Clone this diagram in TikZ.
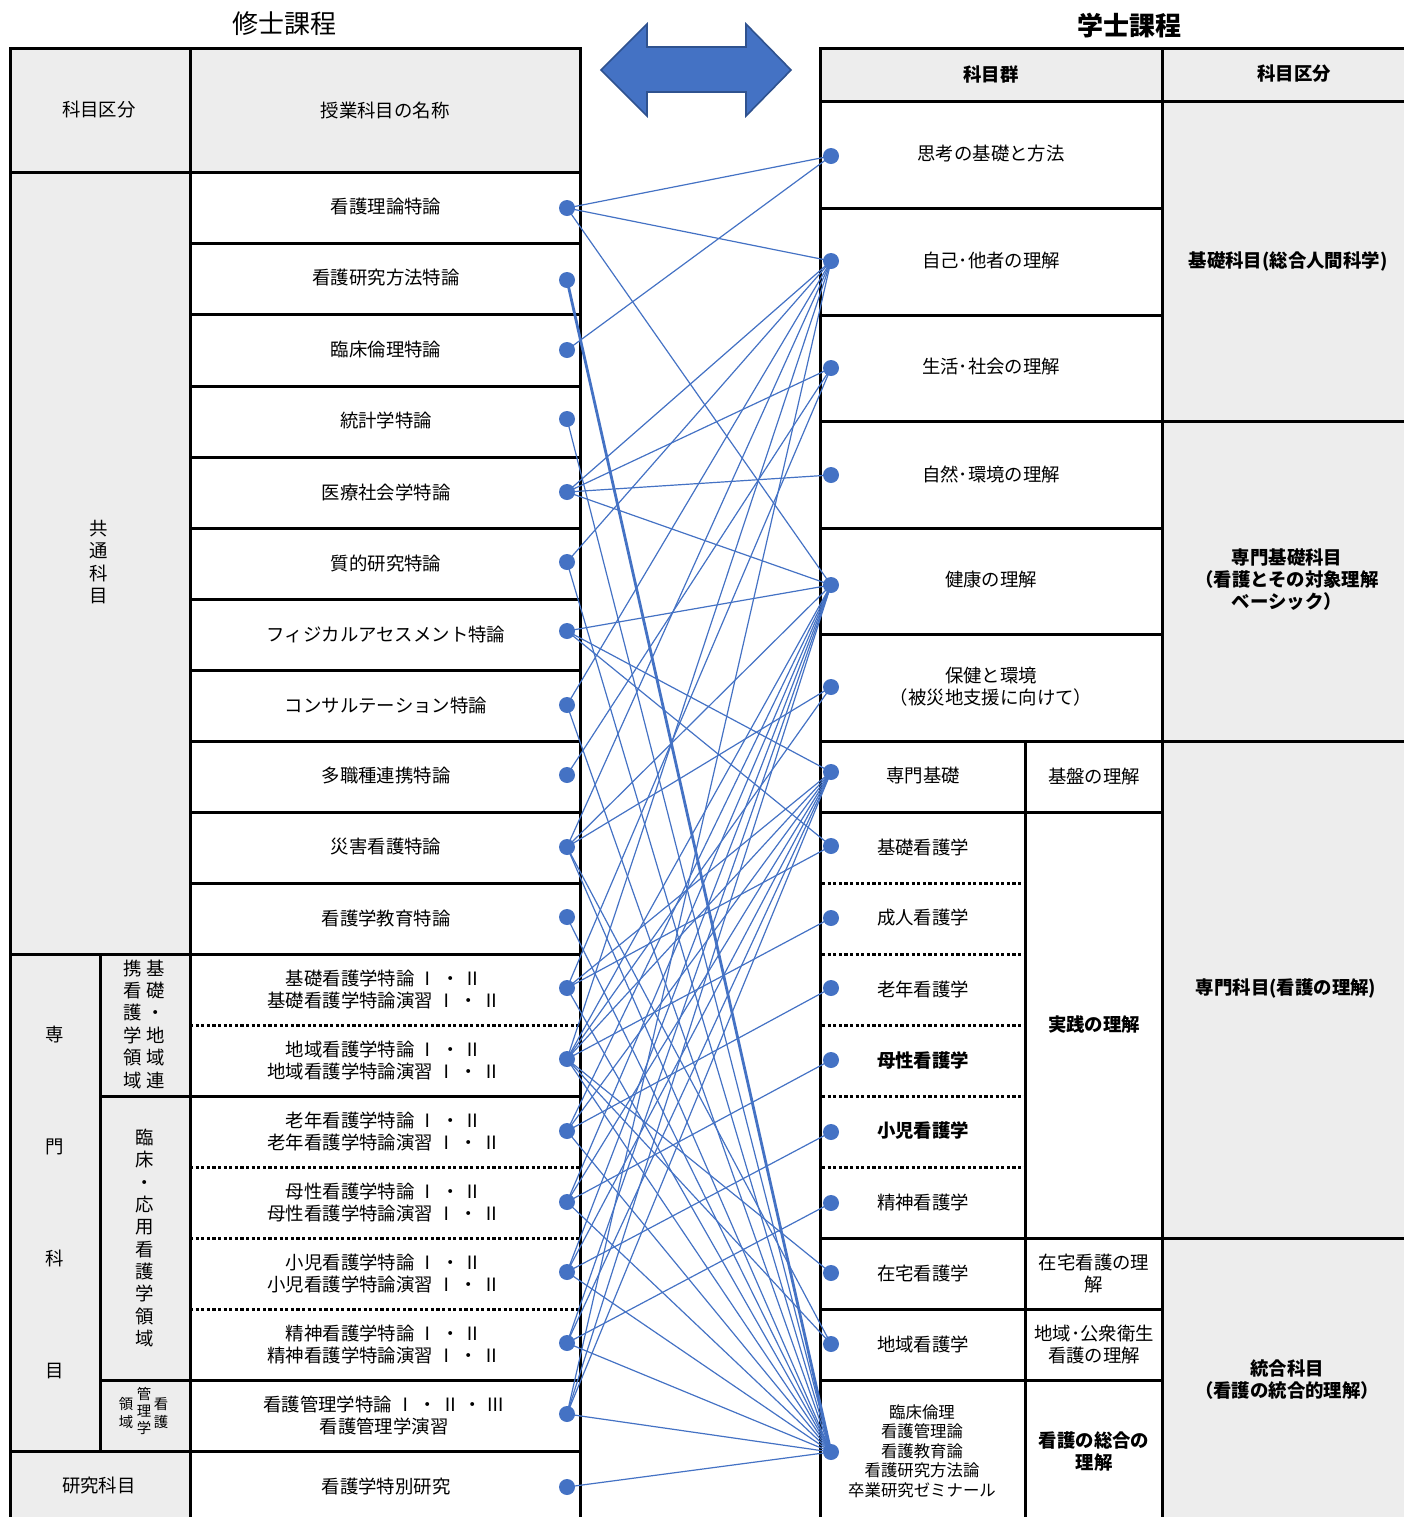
\documentclass[tikz,border=0pt]{standalone}
\usepackage{fontspec}
\setmainfont{Noto Sans CJK JP}
\newfontfamily\jp{Noto Sans CJK JP}
\definecolor{dotblue}{HTML}{4472C4}
\definecolor{arrline}{HTML}{2F528F}
\definecolor{cellgrey}{HTML}{EDEDED}
\tikzset{
  grid/.style={line width=1.5pt, line cap=rect},
  dotline/.style={line width=1.5pt, dash pattern=on 1.6pt off 1.2pt},
  lbl/.style={font=\jp\fontsize{9.2}{11}\selectfont, align=center, inner sep=0pt},
  blbl/.style={font=\jp\bfseries\fontsize{9.2}{11}\selectfont, align=center, inner sep=0pt},
  dot/.style={circle, fill=dotblue, inner sep=0pt, minimum size=8pt},
  conn/.style={draw=dotblue, line width=0.6pt},
}
\begin{document}
\begin{tikzpicture}[x=0.5pt,y=-0.5pt]
\useasboundingbox (0,0) rectangle (1404,1517);
% ---------- fills
\fill[cellgrey] (10,48) rectangle (580,172);
\fill[cellgrey] (10,172) rectangle (190,1517);
\fill[cellgrey] (820,48) rectangle (1404,101);
\fill[cellgrey] (1162,101) rectangle (1404,1517);
% ---------- titles
\node[lbl, font=\jp\fontsize{13}{15}\selectfont] (ttlM) at (284,24) {修士課程};
\node[lbl, font=\jp\bfseries\fontsize{13}{15}\selectfont] (ttlB) at (1129,26) {学士課程};
% ---------- double arrow
\draw[fill=dotblue, draw=arrline, line width=0.8pt] (601,70) -- (647,24) -- (647,47) -- (746,47) -- (746,24) -- (791,70) -- (746,116) -- (746,92) -- (647,92) -- (647,116) -- cycle;
% ---------- left table grid
\draw[grid] (10,48) -- (580,48);
\draw[grid] (10,48) -- (10,1517);
\draw[grid] (190,48) -- (190,1517);
\draw[grid] (580,48) -- (580,1517);
\draw[grid] (10,172) -- (580,172);
\foreach \y in {243,314,386,457,528,599,670,741,812,883}{\draw[grid] (190,\y) -- (580,\y);}
\draw[grid] (10,954) -- (580,954);
\draw[grid] (100,1096) -- (580,1096);
\draw[grid] (100,1380) -- (580,1380);
\draw[grid] (10,1451) -- (580,1451);
\draw[grid] (100,954) -- (100,1451);
\foreach \y in {1025,1167,1238,1309}{\draw[dotline] (190,\y) -- (580,\y);}
% ---------- right table grid
\draw[grid] (820,48) -- (1404,48);
\draw[grid] (820,48) -- (820,1517);
\draw[grid] (1162,48) -- (1162,1517);
\draw[grid] (820,101) -- (1404,101);
\foreach \y in {208,315,528,634,812,1309,1380}{\draw[grid] (820,\y) -- (1162,\y);}
\foreach \y in {421,741,1238}{\draw[grid] (820,\y) -- (1404,\y);}
\draw[grid] (1025,741) -- (1025,1517);
\foreach \y in {883,954,1025,1096,1167}{\draw[dotline] (822,\y) -- (1025,\y);}
% ---------- left texts
\node[lbl] (hKubun) at (99,110) {科目区分};
\node[lbl] (hName) at (385,110) {授業科目の名称};
\node[lbl, font=\jp\fontsize{9.2}{11.3}\selectfont] (vKyotsu) at (99,562) {共\\通\\科\\目};
\node[lbl, font=\jp\fontsize{9.2}{56}\selectfont] (vSenmon) at (55,1202) {専\\門\\科\\目};
\node[lbl, font=\jp\fontsize{9.2}{11.2}\selectfont] (vKisoA) at (156,1024) {基\\礎\\・\\地\\域\\連};
\node[lbl, font=\jp\fontsize{9.2}{11.2}\selectfont] (vKisoB) at (133,1024) {携\\看\\護\\学\\領\\域};
\node[lbl, font=\jp\fontsize{9.2}{11.15}\selectfont] (vRinsho) at (145,1238) {臨\\床\\・\\応\\用\\看\\護\\学\\領\\域};
\node[lbl, font=\jp\fontsize{7.2}{8.6}\selectfont] (vKanA) at (161,1413) {看\\護};
\node[lbl, font=\jp\fontsize{7.2}{8.6}\selectfont] (vKanB) at (144,1411) {管\\理\\学};
\node[lbl, font=\jp\fontsize{7.2}{8.6}\selectfont] (vKanC) at (126,1413) {領\\域};
\node[lbl] (kenkyu) at (99,1486) {研究科目};
\node[lbl] (n1) at (386,207) {看護理論特論};
\node[lbl] (n2) at (386,278) {看護研究方法特論};
\node[lbl] (n3) at (386,349) {臨床倫理特論};
\node[lbl] (n4) at (386,420) {統計学特論};
\node[lbl] (n5) at (386,492) {医療社会学特論};
\node[lbl] (n6) at (386,563) {質的研究特論};
\node[lbl] (n7) at (386,634) {フィジカルアセスメント特論};
\node[lbl] (n8) at (386,705) {コンサルテーション特論};
\node[lbl] (n9) at (386,776) {多職種連携特論};
\node[lbl] (n10) at (386,847) {災害看護特論};
\node[lbl] (n11) at (386,918) {看護学教育特論};
\node[lbl] (n12) at (384,989) {基礎看護学特論 Ⅰ ・ Ⅱ\\基礎看護学特論演習 Ⅰ ・ Ⅱ};
\node[lbl] (n13) at (384,1060) {地域看護学特論 Ⅰ ・ Ⅱ\\地域看護学特論演習 Ⅰ ・ Ⅱ};
\node[lbl] (n14) at (384,1131) {老年看護学特論 Ⅰ ・ Ⅱ\\老年看護学特論演習 Ⅰ ・ Ⅱ};
\node[lbl] (n15) at (384,1202) {母性看護学特論 Ⅰ ・ Ⅱ\\母性看護学特論演習 Ⅰ ・ Ⅱ};
\node[lbl] (n16) at (384,1273) {小児看護学特論 Ⅰ ・ Ⅱ\\小児看護学特論演習 Ⅰ ・ Ⅱ};
\node[lbl] (n17) at (384,1344) {精神看護学特論 Ⅰ ・ Ⅱ\\精神看護学特論演習 Ⅰ ・ Ⅱ};
\node[lbl] (n18) at (384,1415) {看護管理学特論 Ⅰ ・ Ⅱ ・ Ⅲ\\看護管理学演習};
\node[lbl] (n19) at (386,1486) {看護学特別研究};
% ---------- right texts
\node[blbl] (hGun) at (991,74) {科目群};
\node[blbl] (hKubunR) at (1294,74) {科目区分};
\node[lbl] (r1) at (991,154) {思考の基礎と方法};
\node[lbl] (r2) at (991,260) {自己･他者の理解};
\node[lbl] (r3) at (991,367) {生活･社会の理解};
\node[lbl] (r4) at (991,474) {自然･環境の理解};
\node[lbl] (r5) at (991,580) {健康の理解};
\node[lbl] (r6) at (991,687) {保健と環境\\（被災地支援に向けて）};
\node[lbl] (r7) at (923,776) {専門基礎};
\node[lbl] (r8) at (923,847) {基礎看護学};
\node[lbl] (r9) at (923,918) {成人看護学};
\node[lbl] (r10) at (923,989) {老年看護学};
\node[blbl] (r11) at (923,1060) {母性看護学};
\node[blbl] (r12) at (923,1131) {小児看護学};
\node[lbl] (r13) at (923,1202) {精神看護学};
\node[lbl] (r14) at (923,1273) {在宅看護学};
\node[lbl] (r15) at (923,1344) {地域看護学};
\node[lbl, font=\jp\fontsize{8.2}{9.8}\selectfont] (r16) at (922,1451) {臨床倫理\\看護管理論\\看護教育論\\看護研究方法論\\卒業研究ゼミナール};
\node[lbl] (c1) at (1094,776) {基盤の理解};
\node[blbl] (c2) at (1094,1024) {実践の理解};
\node[lbl] (c3) at (1094,1273) {在宅看護の理\\解};
\node[lbl] (c4) at (1094,1344) {地域･公衆衛生\\看護の理解};
\node[blbl] (c5) at (1094,1451) {看護の総合の\\理解};
\node[blbl] (k1) at (1288,261) {基礎科目(総合人間科学)};
\node[blbl] (k2) at (1287,580) {専門基礎科目\\（看護とその対象理解\\ベーシック）};
\node[blbl] (k3) at (1286,988) {専門科目(看護の理解)};
\node[blbl] (k4) at (1287,1380) {統合科目\\（看護の統合的理解）};
% ---------- connector end points
\foreach \i/\y in {1/208,2/280,3/350,4/419,5/492,6/562,7/631,8/705,9/775,10/847,11/917,12/988,13/1059,14/1131,15/1202,16/1272,17/1343,18/1414,19/1487}{\coordinate (L\i) at (567,\y);}
\foreach \i/\y in {1/156,2/261,3/368,4/475,5/585,6/687,7/772,8/846,9/918,10/988,11/1060,12/1132,13/1203,14/1273,15/1344,16/1452}{\coordinate (R\i) at (831,\y);}
% ---------- connectors
\foreach \a/\b in {1/1,1/2,1/5,3/1,4/16,5/2,5/3,5/4,5/5,6/2,6/16,7/5,7/7,7/8,8/2,8/16,9/3,
  10/2,10/5,10/6,10/15,10/16,11/16,12/3,12/7,12/8,12/16,
  13/2,13/5,13/6,13/7,13/9,13/14,13/15,13/16,14/5,14/7,14/10,14/16,15/5,15/7,15/11,15/16,
  16/5,16/7,16/12,16/16,17/5,17/7,17/13,17/16,18/2,18/5,18/7,18/16,19/16}
  {\draw[conn] (L\a) -- (R\b);}
\draw[conn, line width=1.4pt] (L2) -- (R16);
% ---------- dots
\foreach \i in {1,...,19}{\node[dot] (dL\i) at (L\i) {};}
\foreach \i in {1,...,16}{\node[dot] (dR\i) at (R\i) {};}
\end{tikzpicture}
\end{document}
